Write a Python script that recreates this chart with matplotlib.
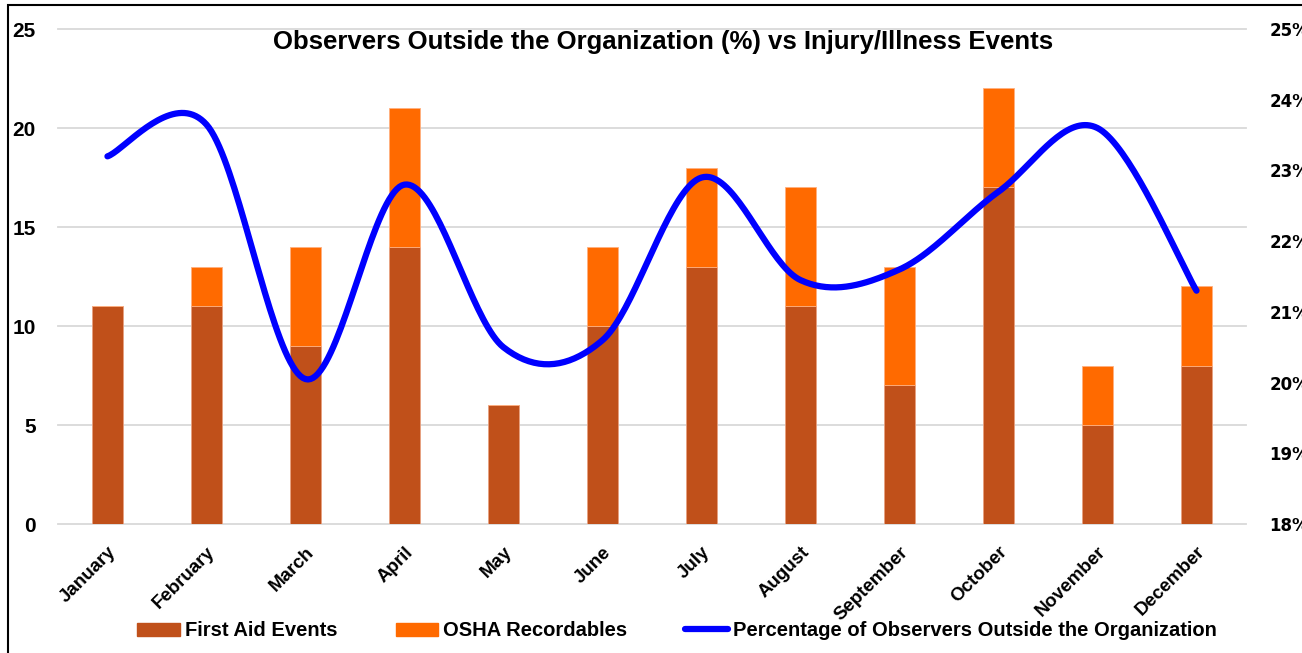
import numpy as np
import matplotlib.pyplot as plt
from matplotlib.patches import Rectangle
from matplotlib.lines import Line2D

months = ['January', 'February', 'March', 'April', 'May', 'June', 'July',
          'August', 'September', 'October', 'November', 'December']
first_aid = [11, 11, 9, 14, 6, 10, 13, 11, 7, 17, 5, 8]
osha = [0, 2, 5, 7, 0, 4, 5, 6, 6, 5, 3, 4]
pct_outside = [23.2, 23.65, 20.05, 22.8, 20.5, 20.6, 22.9, 21.45, 21.6, 22.7, 23.6, 21.3]
left_ticks = [0, 5, 10, 15, 20, 25]
right_ticks = [18, 19, 20, 21, 22, 23, 24, 25]

BROWN = '#C0501A'
ORANGE = '#FF6A00'
BLUE = '#0000FF'
SANS = ['Liberation Sans', 'DejaVu Sans']


def smooth(xs, ys, n=40):
    # bezier smoothing like a spreadsheet "smoothed line"
    xs = np.asarray(xs, float)
    ys = np.asarray(ys, float)
    px = np.concatenate([[xs[0]], xs, [xs[-1]]])
    py = np.concatenate([[ys[0]], ys, [ys[-1]]])
    out_x, out_y = [], []
    t = np.linspace(0, 1, n)
    for i in range(1, len(px) - 2):
        p0 = np.array([px[i], py[i]])
        p3 = np.array([px[i + 1], py[i + 1]])
        c1 = p0 + (np.array([px[i + 1], py[i + 1]]) - np.array([px[i - 1], py[i - 1]])) / 6
        c2 = p3 - (np.array([px[i + 2], py[i + 2]]) - np.array([px[i], py[i]])) / 6
        b = ((1 - t) ** 3)[:, None] * p0 + (3 * (1 - t) ** 2 * t)[:, None] * c1 \
            + (3 * (1 - t) * t ** 2)[:, None] * c2 + (t ** 3)[:, None] * p3
        out_x.extend(b[:, 0])
        out_y.extend(b[:, 1])
    return np.array(out_x), np.array(out_y)


fig = plt.figure(figsize=(13.02, 6.53), dpi=100)
ax = fig.add_axes([0.0445, 0.1975, 0.9125, 0.758])
x = np.arange(len(months))

ax.bar(x, first_aid, width=0.31, color=BROWN, edgecolor='#E8A080', linewidth=0.6, zorder=2)
ax.bar(x, osha, width=0.31, bottom=first_aid, color=ORANGE, edgecolor='#FFB080',
       linewidth=0.6, zorder=2)

ax.set_xlim(-0.5, len(months) - 0.5)
ax.set_ylim(0, 25)
ax.set_yticks(left_ticks, labels=[str(v) for v in left_ticks], fontsize=15,
              fontweight='bold', family=SANS)
ax.grid(axis='y', color='#D9D9D9', linewidth=1.3, zorder=0)
for gl in ax.get_ygridlines():
    gl.set_clip_on(False)
for s in ax.spines.values():
    s.set_visible(False)
ax.tick_params(length=0)
ax.tick_params(axis='y', pad=16)
ax.set_xticks(x, labels=months, rotation=45, ha='right', rotation_mode='anchor',
              fontsize=13.5, fontweight='bold', family=SANS)
ax.tick_params(axis='x', pad=14)
for lab in ax.get_xticklabels():
    lab.set_x(lab.get_position()[0])

ax2 = ax.twinx()
ax2.set_ylim(18, 25)
ax2.set_yticks(right_ticks, labels=['%d%%' % v for v in right_ticks], fontsize=12,
               fontweight='bold')
for s in ax2.spines.values():
    s.set_visible(False)
ax2.tick_params(length=0, pad=17)
sx, sy = smooth(x, pct_outside)
ax2.plot(sx, sy, color=BLUE, linewidth=4.5, solid_capstyle='round', zorder=3)

fig.text(0.509, 0.935, 'Observers Outside the Organization (%) vs Injury/Illness Events',
         ha='center', va='center', fontsize=18.5, fontweight='bold', family=SANS)

handles = [Rectangle((0, 0), 1, 1, color=BROWN), Rectangle((0, 0), 1, 1, color=ORANGE),
           Line2D([0], [0], color=BLUE, linewidth=4.5, solid_capstyle='round')]
labels = ['First Aid Events', 'OSHA Recordables', 'Percentage of Observers Outside the Organization']
fig.legend(handles, labels, loc='center', bbox_to_anchor=(0.52, 0.034), ncol=3, frameon=False,
           prop={'family': SANS, 'weight': 'bold', 'size': 14.5}, handlelength=2.1,
           handleheight=0.65, columnspacing=2.9, handletextpad=0.25)

fig.patches.append(Rectangle((0.006, -0.1), 1.1, 1.092, transform=fig.transFigure,
                             fill=False, edgecolor='black', linewidth=1.5))

fig.savefig('out.png', dpi=100)
